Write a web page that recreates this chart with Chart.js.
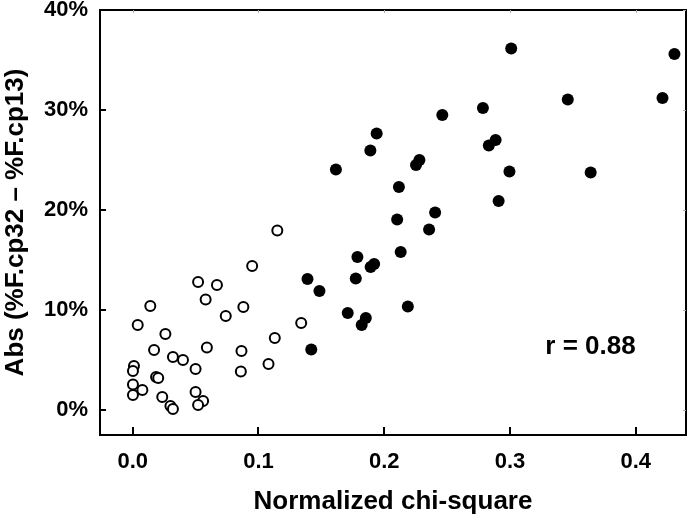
<!DOCTYPE html>
<html>
<head>
<meta charset="utf-8">
<script src="https://cdn.jsdelivr.net/npm/chart.js@4"></script>
<style>
  html, body { margin: 0; padding: 0; background: #fff; }
  #wrap { width: 693px; height: 521px; }
</style>
</head>
<body>
<div id="wrap"><canvas id="chart" width="693" height="521"></canvas></div>
<script>
// open circles (lower group)
const openX = [0.095, 0.052, 0.067, 0.058, 0.014, 0.088, 0.074, 0.004, 0.026, 0.017,
    0.059, 0.0865, 0.032, 0.040, 0.050, 0.108, 0.001, 0.0002, 0.086, 0.0186,
    0.0203, 0.0002, 0.0077, 0.0002, 0.0235, 0.050, 0.056, 0.052, 0.030, 0.032,
    0.115, 0.134, 0.113];
const openY = [14.4, 12.8, 12.5, 11.05, 10.4, 10.3, 9.4, 8.5, 7.6, 6.0,
    6.25, 5.9, 5.3, 5.0, 4.1, 4.6, 4.4, 3.9, 3.85, 3.3,
    3.2, 2.55, 2.0, 1.5, 1.3, 1.8, 0.9, 0.5, 0.4, 0.1,
    17.95, 8.7, 7.2];

// filled circles (upper group)
const filledX = [0.139, 0.1485, 0.142, 0.171, 0.194, 0.189, 0.1616, 0.228, 0.2253, 0.2117,
    0.2405, 0.2103, 0.2357, 0.2131, 0.1787, 0.192, 0.1892, 0.1774, 0.2188, 0.1854,
    0.1821, 0.301, 0.4308, 0.346, 0.4213, 0.2785, 0.2462, 0.2886, 0.2832, 0.2996,
    0.3642, 0.291];
const filledY = [13.1, 11.9, 6.05, 9.7, 27.65, 25.95, 24.05, 25.0, 24.5, 22.3,
    19.75, 19.05, 18.05, 15.8, 15.3, 14.6, 14.3, 13.15, 10.35, 9.2,
    8.5, 36.15, 35.6, 31.05, 31.2, 30.2, 29.5, 27.0, 26.45, 23.85,
    23.75, 20.9];

const xTicks = [0, 0.1, 0.2, 0.3, 0.4];
const yTicks = [0, 10, 20, 30, 40];

function toPoints(xs, ys) {
    return xs.map(function(x, i) { return { x: x, y: ys[i] }; });
}

Chart.defaults.font.family = '"Liberation Sans", Arial, sans-serif';
Chart.defaults.color = '#000';

// frame, inside ticks and the r label
const framePlugin = {
    id: 'frame',
    afterDraw(chart) {
        const ctx = chart.ctx;
        const a = chart.chartArea;
        const xs = chart.scales.x, ys = chart.scales.y;
        ctx.save();
        ctx.strokeStyle = '#000';
        ctx.lineWidth = 2;
        ctx.strokeRect(a.left, a.top, a.right - a.left, a.bottom - a.top);
        ctx.lineWidth = 2;
        ctx.beginPath();
        xTicks.forEach(function(v) {
            const px = Math.round(xs.getPixelForValue(v));
            ctx.moveTo(px, a.bottom);
            ctx.lineTo(px, a.bottom - 8);
        });
        yTicks.forEach(function(v) {
            const py = Math.round(ys.getPixelForValue(v));
            ctx.moveTo(a.left, py);
            ctx.lineTo(a.left + 6, py);
        });
        ctx.stroke();
        ctx.strokeStyle = '#aaa';
        ctx.lineWidth = 1;
        ctx.beginPath();
        xTicks.forEach(function(v) {
            const px = Math.round(xs.getPixelForValue(v)) + 0.5;
            ctx.moveTo(px, a.top);
            ctx.lineTo(px, a.top + 3);
        });
        yTicks.forEach(function(v) {
            const py = Math.round(ys.getPixelForValue(v)) + 0.5;
            ctx.moveTo(a.right, py);
            ctx.lineTo(a.right - 3, py);
        });
        ctx.stroke();

        ctx.fillStyle = '#000';
        ctx.font = 'bold 26px "Liberation Sans", Arial, sans-serif';
        ctx.textAlign = 'right';
        ctx.textBaseline = 'middle';
        ctx.fillText('r = 0.88', xs.getPixelForValue(0.4), ys.getPixelForValue(6.3));
        ctx.restore();
    }
};

new Chart(document.getElementById('chart'), {
    type: 'scatter',
    data: {
        datasets: [{
            label: 'open',
            data: toPoints(openX, openY),
            pointRadius: 5,
            pointBorderWidth: 2,
            pointBackgroundColor: '#fff',
            pointBorderColor: '#000',
        }, {
            label: 'filled',
            data: toPoints(filledX, filledY),
            pointRadius: 6,
            pointBorderWidth: 0,
            pointBackgroundColor: '#000',
            pointBorderColor: '#000',
        }]
    },
    options: {
        responsive: false,
        animation: false,
        layout: { padding: { top: 10, right: 4, left: 0, bottom: 0 } },
        plugins: { legend: { display: false }, tooltip: { enabled: false } },
        scales: {
            x: {
                type: 'linear',
                min: -0.026,
                max: 0.44,
                border: { display: false },
                grid: { display: false, drawTicks: false },
                afterBuildTicks: function(s) { s.ticks = xTicks.map(function(v) { return { value: v }; }); },
                afterFit: function(s) { s.height = 86; s.paddingLeft = 0; s.paddingRight = 0; },
                ticks: {
                    padding: 14,
                    font: { size: 22, weight: 'bold' },
                    maxRotation: 0,
                    callback: function(v) { return v.toFixed(1); }
                },
                title: {
                    display: true,
                    text: 'Normalized chi-square',
                    font: { size: 26, weight: 'bold' },
                    padding: { top: 0, bottom: 4 }
                }
            },
            y: {
                min: -2.5,
                max: 40,
                border: { display: false },
                grid: { display: false, drawTicks: false },
                afterBuildTicks: function(s) { s.ticks = yTicks.map(function(v) { return { value: v }; }); },
                afterFit: function(s) { s.width = 100; s.paddingTop = 0; s.paddingBottom = 0; },
                ticks: {
                    padding: 12,
                    font: { size: 22, weight: 'bold' },
                    callback: function(v) { return v + '%'; }
                },
                title: {
                    display: true,
                    text: 'Abs (%F.cp32 \u2013 %F.cp13)',
                    font: { size: 26, weight: 'bold' },
                    padding: { top: 0, bottom: 0 }
                }
            }
        }
    },
    plugins: [framePlugin]
});
</script>
</body>
</html>
